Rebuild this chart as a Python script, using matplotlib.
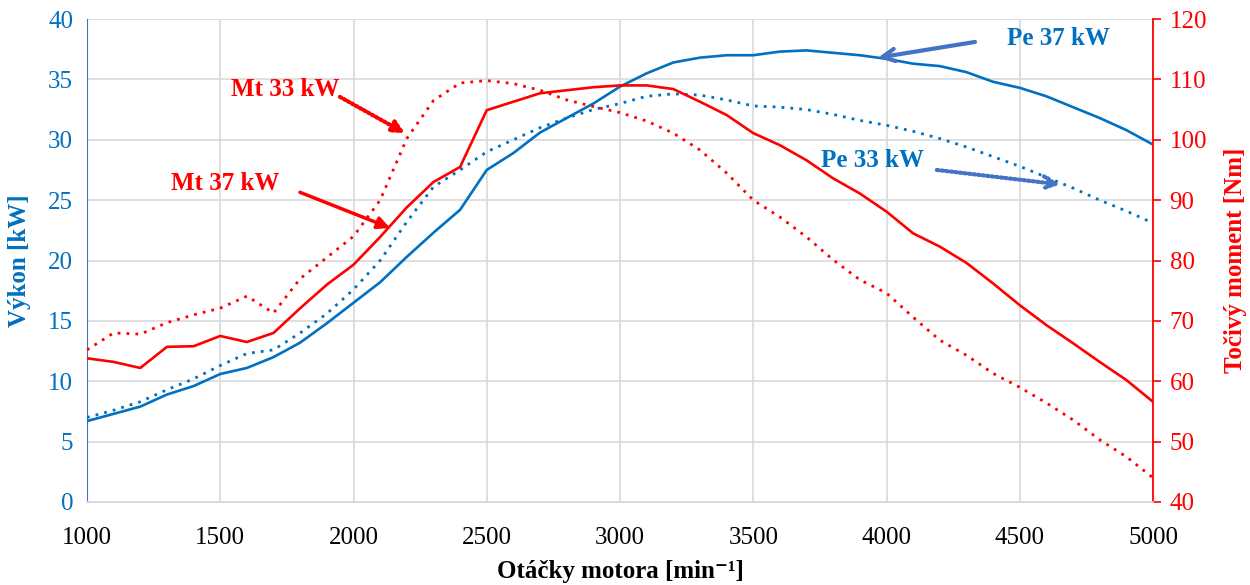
import numpy as np
import matplotlib.pyplot as plt

plt.rcParams['font.family'] = ['Liberation Serif', 'DejaVu Serif']

# otacky motora [min-1]
rpm = np.arange(1000, 5001, 100)

# vykon [kW]
pe_37 = [6.7, 7.3, 7.9, 8.9, 9.6, 10.6, 11.1, 12.0, 13.2, 14.8,
         16.5, 18.2, 20.3, 22.3, 24.2, 27.5, 28.9, 30.6, 31.8, 33.0,
         34.4, 35.5, 36.4, 36.8, 37.0, 37.0, 37.3, 37.4, 37.2, 37.0,
         36.7, 36.3, 36.1, 35.6, 34.8, 34.3, 33.6, 32.7, 31.8, 30.8, 29.6]
pe_33 = [7.0, 7.6, 8.3, 9.3, 10.2, 11.3, 12.3, 12.6, 14.0, 15.6,
         17.6, 20.0, 23.2, 26.1, 27.5, 29.0, 30.0, 31.0, 31.8, 32.5,
         33.0, 33.6, 33.8, 33.7, 33.3, 32.8, 32.7, 32.5, 32.1, 31.6,
         31.2, 30.7, 30.1, 29.4, 28.6, 27.8, 26.9, 26.0, 25.0, 24.1, 23.1]

# tocivy moment [Nm]
mt_37 = [63.8, 63.2, 62.2, 65.7, 65.8, 67.5, 66.5, 68.0, 72.1, 76.0,
         79.3, 83.9, 88.8, 93.0, 95.5, 104.9, 106.3, 107.7, 108.2, 108.7,
         109.0, 109.0, 108.4, 106.3, 104.1, 101.1, 99.1, 96.6, 93.6, 91.1,
         88.1, 84.5, 82.3, 79.6, 76.2, 72.6, 69.3, 66.3, 63.2, 60.2, 56.6]
mt_33 = [65.2, 68.0, 67.8, 69.7, 71.0, 72.1, 74.1, 71.3, 77.0, 80.5,
         84.0, 90.0, 100.2, 106.5, 109.4, 109.8, 109.3, 108.2, 106.6, 105.5,
         104.5, 103.1, 101.1, 98.3, 94.5, 90.0, 87.2, 83.9, 80.1, 76.8,
         74.6, 70.6, 66.8, 64.3, 61.3, 59.0, 56.4, 53.6, 50.3, 47.5, 44.0]

blue = '#0070C0'
blue_arrow = '#4472C4'
red = '#FF0000'
dots = (0, (1, 2.2))
arrow_dots = (0, (0.4, 0.7))

fig = plt.figure(figsize=(12.5, 5.85), dpi=100)
ax = fig.add_axes([0.0696, 0.1419, 0.8528, 0.8256])
ax2 = ax.twinx()

ax.plot(rpm, pe_37, color=blue, lw=1.9, zorder=3)
ax.plot(rpm, pe_33, color=blue, lw=2.0, ls=dots, zorder=3)
ax2.plot(rpm, mt_37, color=red, lw=1.9)
ax2.plot(rpm, mt_33, color=red, lw=2.0, ls=dots)

ax.set_xlim(1000, 5000)
ax.set_ylim(0, 40)
ax2.set_ylim(40, 120)
ax.set_xticks(np.arange(1000, 5001, 500))
ax.set_yticks(np.arange(0, 41, 5))
ax2.set_yticks(np.arange(40, 121, 10))

ax.grid(True, color='#D9D9D9', lw=1.2)
ax.set_axisbelow(True)

ax.tick_params(axis='x', length=0, labelsize=18, pad=18, colors='black')
ax.tick_params(axis='y', length=0, labelsize=18, pad=10, labelcolor=blue)
ax2.tick_params(axis='y', length=6, width=1.2, color=red, labelsize=18, labelcolor=red, pad=6)

for a in (ax, ax2):
    a.spines['top'].set_visible(False)
    a.spines['bottom'].set_color('#D9D9D9')
    a.spines['bottom'].set_linewidth(1.2)
ax.spines['left'].set_color(blue_arrow)
ax.spines['right'].set_visible(False)
ax2.spines['left'].set_visible(False)
ax2.spines['right'].set_color(red)
ax2.spines['right'].set_linewidth(1.3)

ax.set_xlabel('Otáčky motora [min⁻¹]', fontsize=18, fontweight='bold', labelpad=8)
ax.set_ylabel('Výkon [kW]', fontsize=18, fontweight='bold', color=blue, labelpad=12)
ax2.set_ylabel('Točivý moment [Nm]', fontsize=18, fontweight='bold', color=red, labelpad=12)

# popisky
lab = dict(fontsize=18, fontweight='bold', ha='center', va='center')
ax2.text(1743, 108.3, 'Mt 33 kW', color=red, **lab)
ax2.text(1518, 92.8, 'Mt 37 kW', color=red, **lab)
ax.text(4644, 38.4, 'Pe 37 kW', color=blue, **lab)
ax.text(3946, 28.3, 'Pe 33 kW', color=blue, **lab)

# sipky
ax2.annotate('', xy=(2193, 101.1), xytext=(1949, 107.1),
             arrowprops=dict(arrowstyle='-|>', color=red, lw=3, ls=arrow_dots,
                             mutation_scale=18, shrinkA=0, shrinkB=0))
ax2.annotate('', xy=(2137, 85.4), xytext=(1799, 91.3),
             arrowprops=dict(arrowstyle='-|>', color=red, lw=2.5,
                             mutation_scale=18, shrinkA=0, shrinkB=0))
ax.annotate('', xy=(3968, 36.8), xytext=(4332, 38.1),
            arrowprops=dict(arrowstyle='->', color=blue_arrow, lw=3,
                            mutation_scale=22, shrinkA=0, shrinkB=0))
ax.annotate('', xy=(4651, 26.3), xytext=(4189, 27.5),
            arrowprops=dict(arrowstyle='->', color=blue_arrow, lw=3, ls=arrow_dots,
                            mutation_scale=22, shrinkA=0, shrinkB=0))

plt.savefig('out.png', dpi=100)
